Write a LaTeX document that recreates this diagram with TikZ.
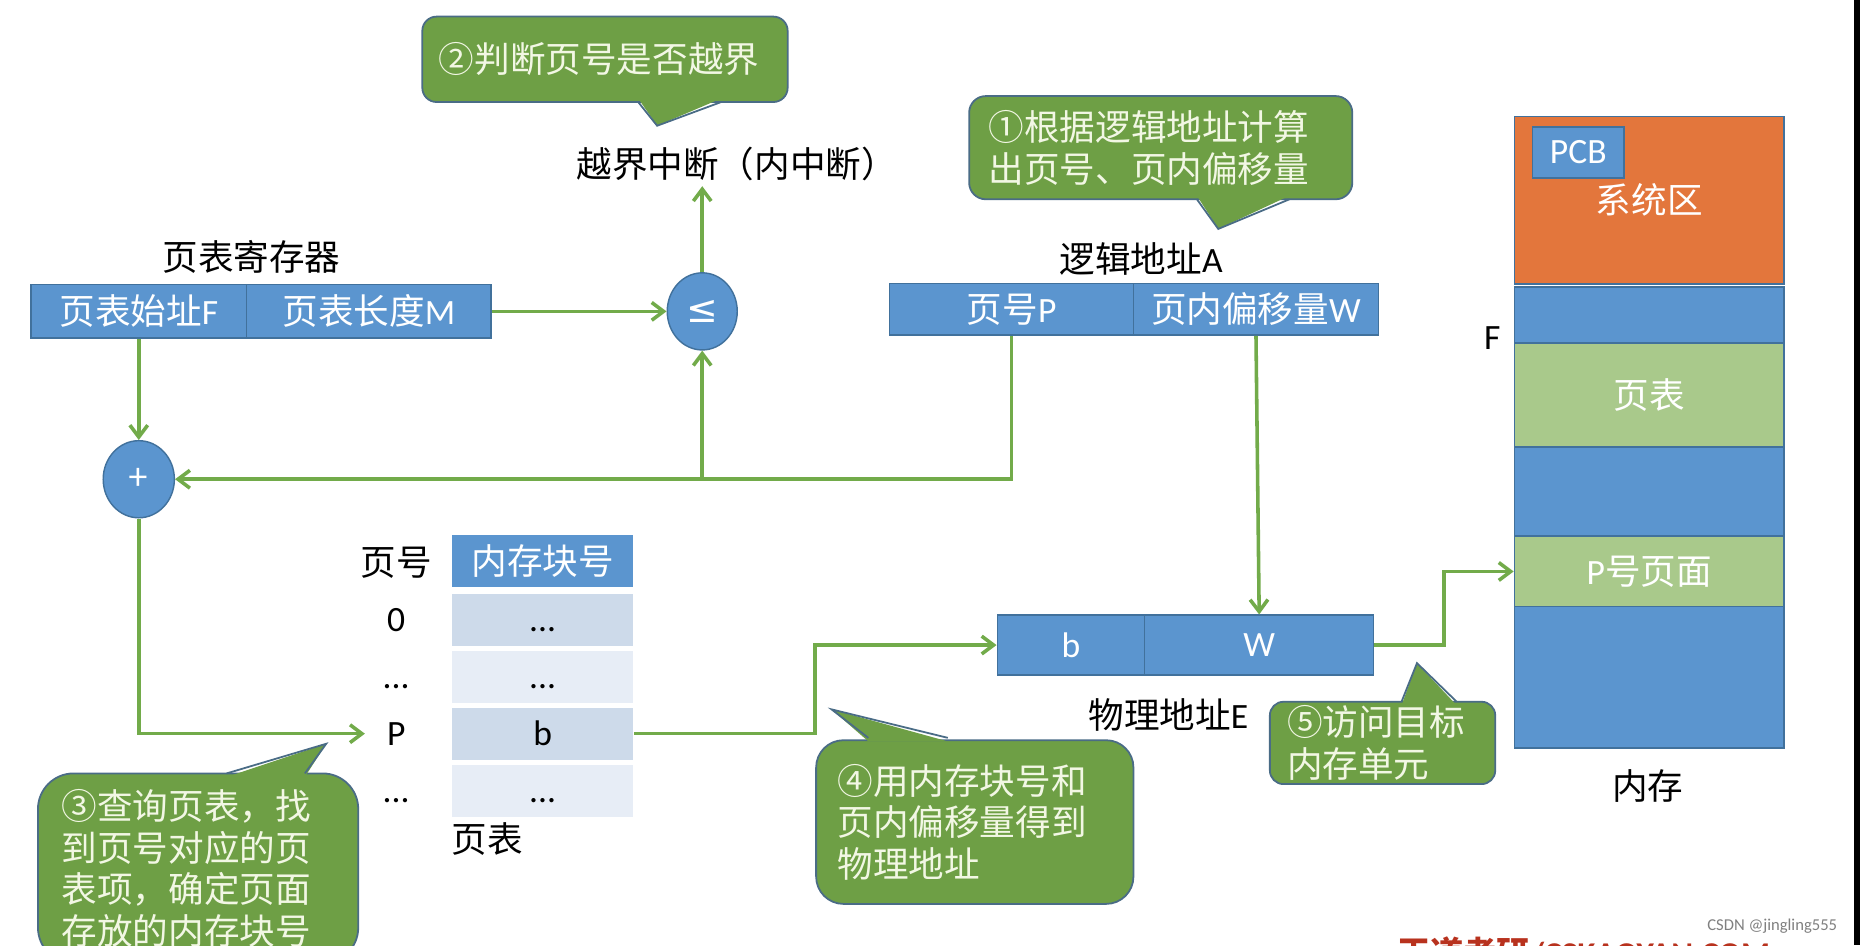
\documentclass[tikz,border=0pt]{standalone}
\usepackage{fontspec}
\setmainfont{Carlito}
\newfontfamily\cjk{Noto Sans CJK SC}
\newfontfamily\dejavu{DejaVu Sans}
\usetikzlibrary{arrows.meta,shapes.geometric,calc}
\newcommand\txtsize{\fontsize{15}{17.5}\selectfont}
\definecolor{boxblue}{HTML}{5B95CF}
\definecolor{boxline}{HTML}{41719C}
\definecolor{flowgreen}{HTML}{72AB4A}
\definecolor{tipgreen}{HTML}{6E9F45}
\definecolor{tipline}{HTML}{4A6C86}
\definecolor{tiptext}{HTML}{F2F7E4}
\definecolor{sysorange}{HTML}{E3763C}
\definecolor{pagegreen}{HTML}{A9C98B}
\definecolor{rowdark}{HTML}{CDDAEA}
\definecolor{rowlight}{HTML}{E7EDF6}
\definecolor{markred}{HTML}{B8321E}
\begin{document}
\begin{tikzpicture}[x=0.5pt,y=-0.5pt,
  flow/.style={draw=flowgreen,line width=1.5pt,-{Straight Barb[length=5pt,width=7.5pt]}},
  field/.style={draw=boxline,fill=boxblue,line width=0.6pt,text=white,inner sep=0pt,font=\txtsize},
  gate/.style={ellipse,draw=boxline,fill=boxblue,line width=0.6pt,text=white,inner sep=0pt,minimum width=29.5pt,minimum height=32.5pt,font=\cjk\txtsize},
  lbl/.style={inner sep=0pt,font=\cjk\txtsize},
  row/.style={minimum width=76.5pt,minimum height=22pt,inner sep=0pt,text height=9.7pt,text depth=0pt,font=\txtsize},
  rowlabel/.style={minimum width=26pt,inner sep=0pt,text height=9.7pt,text depth=0pt,font=\txtsize},
  block/.style={draw=boxline,line width=0.6pt,minimum width=113.7pt,inner sep=0pt,text=white,font=\cjk\txtsize},
  tip/.style={draw=tipline,fill=tipgreen,line width=0.75pt,text=tiptext,align=left,inner sep=0pt,font=\cjk\txtsize},
  tail/.style={draw=tipline,line width=0.75pt}]
\fill[white] (0,0) rectangle (1568,797);
\useasboundingbox (0,0) rectangle (1568,797);
\clip (0,0) rectangle (1568,797);
\fill[black] (1563,0) rectangle (1568,797);

% page table register
\node[lbl] (regname) at (212,217) {页表寄存器};
\node[field,minimum width=91pt,minimum height=22.5pt] (regF) at (117,262.5) {{\cjk 页表始址}F};
\node[field,minimum width=103pt,minimum height=22.5pt] (regM) at (311,262.5) {{\cjk 页表长度}M};
\node[gate,font=\dejavu\fontsize{16}{18}\selectfont] (le) at (592,262.5) {≤};
\node[gate,minimum width=30pt] (plus) at (117,404) {+};
\node[lbl] (intr) at (621,138) {越界中断（内中断）};
\coordinate (intrfoot) at (592,157);

% logical address
\node[lbl] (laname) at (962,218) {逻辑地址{\rmfamily A}};
\node[field,minimum width=102.8pt,minimum height=21.75pt] (laP) at (852.8,260.75) {{\cjk 页号}P};
\node[field,minimum width=103.2pt,minimum height=21.75pt] (laW) at (1058.8,260.75) {{\cjk 页内偏移量}W};

% page table
\node[lbl] (ptno) at (334,474) {页号};
\node[row,fill=boxblue,text=white,font=\cjk\txtsize,text height=,text depth=] (pthead) at (457.5,473) {内存块号};
\node[row,fill=rowdark] (pt0) at (457.5,523) {...};
\node[row,fill=rowlight] (pt1) at (457.5,570.5) {...};
\node[row,fill=rowdark] (ptb) at (457.5,618.5) {b};
\node[row,fill=rowlight] (pt3) at (457.5,666.5) {...};
\node[rowlabel] (p0) at (334,523) {0};
\node[rowlabel] (p1) at (334,570.5) {...};
\node[rowlabel] (pP) at (334,618.5) {P};
\node[rowlabel] (p3) at (334,666.5) {...};
\node[lbl] (ptname) at (411,707) {页表};

% physical address
\node[field,minimum width=62.15pt,minimum height=25.2pt] (paB) at (902.85,543.8) {b};
\node[field,minimum width=96.5pt,minimum height=25.2pt] (paW) at (1061.5,543.8) {W};
\node[lbl] (paname) at (985,603) {物理地址{\rmfamily E}};

% memory
\node[block,fill=sysorange,minimum height=70.75pt] (sys) at (1390.3,168.75) {系统区};
\node[field,minimum width=38.5pt,minimum height=21.5pt] (pcb) at (1330.5,128.5) {PCB};
\node[block,fill=boxblue,minimum height=23.5pt] (mem1) at (1390.3,265.5) {};
\node[block,fill=pagegreen,minimum height=44pt] (ptmem) at (1390.3,333) {页表};
\node[block,fill=boxblue,minimum height=37.5pt] (mem2) at (1390.3,414.5) {};
\node[block,fill=pagegreen,minimum height=29.75pt] (pagep) at (1390.3,481.75) {{\rmfamily P}号页面};
\node[block,fill=boxblue,minimum height=59.6pt] (mem3) at (1390.3,571.1) {};
\node[inner sep=0pt,font=\txtsize] (fmark) at (1258,285) {F};
\node[lbl] (memname) at (1389,663) {内存};

% connectors
\draw[flow] (regM.east) -- (le.west);
\draw[flow] (le.north) -- (intrfoot);
\draw[flow] (regF.south) -- (plus.north);
\draw[flow] (laP.south) |- (plus.east);
\coordinate (fork) at (le.south |- plus.east);
\draw[flow] (fork) -- (le.south);
\draw[flow] (plus.south) |- (pP.west);
\draw[flow] (ptb.east) -| ($(ptb.east)!.5!(paB.west)$) |- (paB.west);
\draw[flow] (laW.south) -- (paW.north);
\draw[flow] (paW.east) -| ($(paW.east)!.5!(pagep.west)$) |- (pagep.west);

% callouts
\node[tip,rounded corners=6pt,minimum width=154pt,minimum height=36pt,text width=140pt] (step2) at (510,50) {②判断页号是否越界};
\fill[tipgreen] (538,83) -- (554,106) -- (608,83) -- cycle;
\draw[tail] (538,86) -- (554,106) -- (608,86);

\node[tip,rounded corners=7pt,minimum width=161.5pt,minimum height=43.5pt,text width=145pt] (step1) at (978.5,124.5) {①根据逻辑地址计算\\出页号、页内偏移量};
\fill[tipgreen] (1009,165) -- (1027,193) -- (1087,165) -- cycle;
\draw[tail] (1009,168) -- (1027,193) -- (1087,168);

\node[tip,rounded corners=15pt,minimum width=135pt,minimum height=80pt,text width=115pt] (step3) at (167,732) {③查询页表，找\\到页号对应的页\\表项，确定页面\\存放的内存块号};
\fill[tipgreen] (191,655) -- (275,627) -- (257,655) -- cycle;
\draw[tail] (191,652) -- (275,627) -- (257,652);

\node[tip,rounded corners=11.5pt,minimum width=133.75pt,minimum height=69pt,text width=115.75pt] (step4) at (821.75,693) {④用内存块号和\\页内偏移量得到\\物理地址};
\fill[tipgreen] (732,625) -- (701,598) -- (799,625) -- cycle;
\draw[tail] (732,622) -- (701,598) -- (799,622);

\node[tip,rounded corners=5.75pt,minimum width=95pt,minimum height=34.7pt,text width=80.5pt] (step5) at (1165.5,626.3) {⑤访问目标\\内存单元};
\fill[tipgreen] (1181.5,594.6) -- (1194.5,559) -- (1228,594.6) -- cycle;
\draw[tail] (1181.5,591.6) -- (1194.5,559) -- (1228,591.6);

% marks
\node[inner sep=0pt,text=gray,font=\fontsize{7}{8}\selectfont] (csdn) at (1494,781) {CSDN @jingling555};
\node[inner sep=0pt,text=markred,font=\bfseries\fontsize{14}{16}\selectfont] (site) at (1335,803) {{\cjk 王道考研}/CSKAOYAN.COM};
\end{tikzpicture}
\end{document}
